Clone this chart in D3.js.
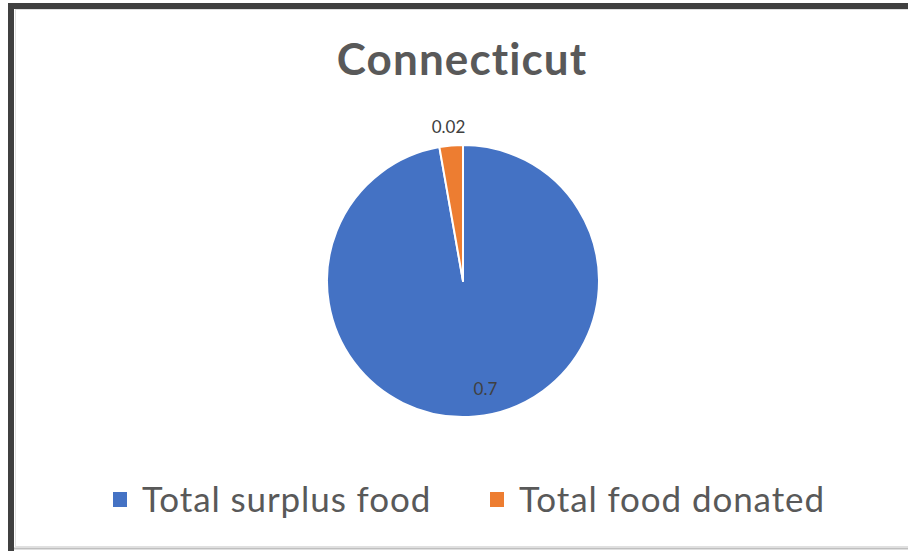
<!DOCTYPE html>
<html>
<head>
<meta charset="utf-8">
<script src="https://cdn.jsdelivr.net/npm/d3@7"></script>
<style>
  html, body { margin: 0; padding: 0; background: #fff; }
  svg { display: block; }
</style>
</head>
<body>
<svg id="chart" width="908" height="551"></svg>
<script>
const title = "Connecticut";
const categories = ["Total surplus food", "Total food donated"];
const values = [0.7, 0.02];
const labels = ["0.7", "0.02"];
const colors = ["#4472C4", "#ED7D31"];

const W = 908, H = 551;
const svg = d3.select("#chart");
const font = "Lato, 'Open Sans', 'Noto Sans', sans-serif";

// frame
svg.append("rect").attr("x", 0).attr("y", 0).attr("width", W).attr("height", H).attr("fill", "#fff");
svg.append("rect").attr("x", 15.5).attr("y", 9.5).attr("width", W + 20).attr("height", 537)
  .attr("fill", "none").attr("stroke", "#e0e0e0").attr("stroke-width", 1);
svg.append("line").attr("x1", 11).attr("x2", 11).attr("y1", 3).attr("y2", H).attr("stroke", "#404040").attr("stroke-width", 6);
svg.append("line").attr("x1", 8).attr("x2", W).attr("y1", 6).attr("y2", 6).attr("stroke", "#404040").attr("stroke-width", 6);
svg.append("line").attr("x1", 14).attr("x2", W).attr("y1", 548.5).attr("y2", 548.5).attr("stroke", "#bfbfbf").attr("stroke-width", 2);

// title
svg.append("text").attr("x", 462).attr("y", 75).attr("text-anchor", "middle")
  .attr("font-family", font).attr("font-weight", 700).attr("font-size", 44)
  .attr("letter-spacing", 1.1)
  .attr("fill", "#595959").text(title);

// pie
const cx = 463, cy = 281, r = 136;
const data = categories.map((c, i) => ({ cat: c, value: values[i], label: labels[i], color: colors[i] }));
const pie = d3.pie().value(d => d.value).sort(null);
const arcs = pie(data);
const arc = d3.arc().innerRadius(0).outerRadius(r);
const g = svg.append("g").attr("transform", `translate(${cx},${cy})`);
g.selectAll("path").data(arcs).join("path")
  .attr("d", arc).attr("fill", d => d.data.color)
  .attr("stroke", "#fff").attr("stroke-width", 2).attr("stroke-linejoin", "round");

// labels
const inner = d3.arc().innerRadius(r * 0.8).outerRadius(r * 0.8);
const outer = d3.arc().innerRadius(r + 19).outerRadius(r + 19);
g.selectAll("text.lbl").data(arcs).join("text")
  .attr("class", "lbl")
  .attr("transform", d => {
    const big = (d.endAngle - d.startAngle) > 0.5;
    const [x, y] = big ? inner.centroid(d) : outer.centroid(d);
    return `translate(${x + (big ? 13 : -1)},${y})`;
  })
  .attr("text-anchor", "middle").attr("dy", "0.35em")
  .attr("font-family", font).attr("font-size", 17).attr("fill", "#404040")
  .text(d => d.data.label);

// legend
const legendX = [113, 490];
const lg = svg.append("g");
data.forEach((d, i) => {
  lg.append("rect").attr("x", legendX[i]).attr("y", 492).attr("width", 14).attr("height", 15).attr("fill", d.color);
  lg.append("text").attr("x", legendX[i] + 29).attr("y", 512)
    .attr("font-family", font).attr("font-size", 35).attr("letter-spacing", 0.9)
    .attr("fill", "#595959").text(d.cat);
});
</script>
</body>
</html>
